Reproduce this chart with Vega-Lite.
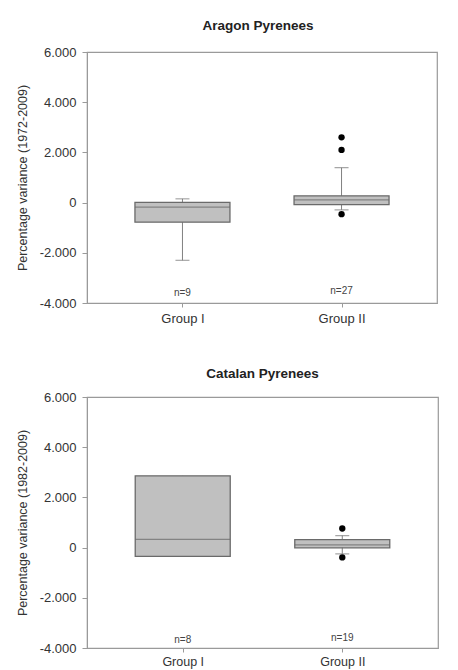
{
  "$schema": "https://vega.github.io/schema/vega-lite/v6.json",
  "background": "white",
  "padding": {"left": 15, "top": 17, "right": 10, "bottom": 0},
  "spacing": 39,
  "datasets": {
    "aragon": [
      {"group": "Group I", "lower": -2300, "q1": -780, "median": -180, "q3": 10, "upper": 150, "n": "n=9", "ny": -3620},
      {"group": "Group II", "lower": -290, "q1": -80, "median": 110, "q3": 270, "upper": 1390, "n": "n=27", "ny": -3540}
    ],
    "aragonOut": [
      {"group": "Group II", "value": 2600},
      {"group": "Group II", "value": 2100},
      {"group": "Group II", "value": -460}
    ],
    "catalan": [
      {"group": "Group I", "lower": -350, "q1": -350, "median": 330, "q3": 2860, "upper": 2860, "n": "n=8", "ny": -3670},
      {"group": "Group II", "lower": -250, "q1": -10, "median": 110, "q3": 320, "upper": 480, "n": "n=19", "ny": -3600}
    ],
    "catalanOut": [
      {"group": "Group II", "value": 760},
      {"group": "Group II", "value": -390}
    ]
  },
  "config": {
    "font": "Liberation Sans",
    "view": {"stroke": "#9a9a9a", "strokeWidth": 1.2},
    "axis": {
      "domainColor": "#9a9a9a",
      "tickColor": "#9a9a9a",
      "grid": false,
      "labelColor": "#333333",
      "titleColor": "#333333",
      "labelFont": "Liberation Sans",
      "titleFont": "Liberation Sans"
    },
    "title": {"font": "Liberation Sans", "fontSize": 13.5, "fontWeight": "bold", "color": "#222222"}
  },
  "vconcat": [
    {
      "width": 350,
      "height": 251,
      "title": {"text": "Aragon Pyrenees", "offset": 14, "dx": -4},
      "data": {"name": "aragon"},
      "encoding": {
        "x": {
          "field": "group", "type": "nominal",
          "scale": {"type": "point", "padding": 0.6},
          "axis": {"title": null, "labelAngle": 0, "labelFontSize": 13, "tickSize": 4, "labelPadding": 5}
        }
      },
      "layer": [
        {
          "mark": {"type": "rule", "color": "#808080", "strokeWidth": 1},
          "encoding": {
            "y": {
              "field": "lower", "type": "quantitative",
              "scale": {"domain": [-4000, 6000], "nice": false, "zero": false},
              "axis": {
                "title": "Percentage variance (1972-2009)",
                "titleFontSize": 12.5, "titleFontWeight": "normal", "titlePadding": 10,
                "values": [-4000, -2000, 0, 2000, 4000, 6000],
                "labelFontSize": 13, "tickSize": 5, "labelPadding": 6,
                "labelExpr": "(datum.value < 0 ? '-' : '') + replace(format(abs(datum.value), ',.0f'), ',', '.')"
              }
            },
            "y2": {"field": "upper"}
          }
        },
        {
          "mark": {"type": "tick", "color": "#808080", "size": 14, "thickness": 1.2},
          "encoding": {"y": {"field": "lower", "type": "quantitative"}}
        },
        {
          "mark": {"type": "tick", "color": "#808080", "size": 14, "thickness": 1.2},
          "encoding": {"y": {"field": "upper", "type": "quantitative"}}
        },
        {
          "mark": {"type": "bar", "width": 95, "fill": "#c0c0c0", "stroke": "#6a6a6a", "strokeWidth": 1.3},
          "encoding": {
            "y": {"field": "q1", "type": "quantitative"},
            "y2": {"field": "q3"}
          }
        },
        {
          "mark": {"type": "tick", "color": "#6a6a6a", "size": 95, "thickness": 1.3},
          "encoding": {"y": {"field": "median", "type": "quantitative"}}
        },
        {
          "data": {"name": "aragonOut"},
          "mark": {"type": "point", "filled": true, "color": "#000000", "size": 40, "opacity": 1},
          "encoding": {"y": {"field": "value", "type": "quantitative"}}
        },
        {
          "mark": {"type": "text", "fontSize": 10, "color": "#444444", "baseline": "middle"},
          "encoding": {
            "y": {"field": "ny", "type": "quantitative"},
            "text": {"field": "n"}
          }
        }
      ]
    },
    {
      "width": 351,
      "height": 251,
      "title": {"text": "Catalan Pyrenees", "offset": 11},
      "data": {"name": "catalan"},
      "encoding": {
        "x": {
          "field": "group", "type": "nominal",
          "scale": {"type": "point", "padding": 0.6},
          "axis": {"title": null, "labelAngle": 0, "labelFontSize": 12.5, "tickSize": 4, "labelPadding": 3}
        }
      },
      "layer": [
        {
          "mark": {"type": "rule", "color": "#808080", "strokeWidth": 1},
          "encoding": {
            "y": {
              "field": "lower", "type": "quantitative",
              "scale": {"domain": [-4000, 6000], "nice": false, "zero": false},
              "axis": {
                "title": "Percentage variance (1982-2009)",
                "titleFontSize": 12.5, "titleFontWeight": "normal", "titlePadding": 10,
                "values": [-4000, -2000, 0, 2000, 4000, 6000],
                "labelFontSize": 13, "tickSize": 5, "labelPadding": 6,
                "labelExpr": "(datum.value < 0 ? '-' : '') + replace(format(abs(datum.value), ',.0f'), ',', '.')"
              }
            },
            "y2": {"field": "upper"}
          }
        },
        {
          "mark": {"type": "tick", "color": "#808080", "size": 14, "thickness": 1.2},
          "transform": [{"filter": "datum.lower < datum.q1"}],
          "encoding": {"y": {"field": "lower", "type": "quantitative"}}
        },
        {
          "mark": {"type": "tick", "color": "#808080", "size": 14, "thickness": 1.2},
          "transform": [{"filter": "datum.upper > datum.q3"}],
          "encoding": {"y": {"field": "upper", "type": "quantitative"}}
        },
        {
          "mark": {"type": "bar", "width": 95, "fill": "#c0c0c0", "stroke": "#6a6a6a", "strokeWidth": 1.3},
          "encoding": {
            "y": {"field": "q1", "type": "quantitative"},
            "y2": {"field": "q3"}
          }
        },
        {
          "mark": {"type": "tick", "color": "#6a6a6a", "size": 95, "thickness": 1.3},
          "encoding": {"y": {"field": "median", "type": "quantitative"}}
        },
        {
          "data": {"name": "catalanOut"},
          "mark": {"type": "point", "filled": true, "color": "#000000", "size": 40, "opacity": 1},
          "encoding": {"y": {"field": "value", "type": "quantitative"}}
        },
        {
          "mark": {"type": "text", "fontSize": 10, "color": "#444444", "baseline": "middle"},
          "encoding": {
            "y": {"field": "ny", "type": "quantitative"},
            "text": {"field": "n"}
          }
        }
      ]
    }
  ]
}
